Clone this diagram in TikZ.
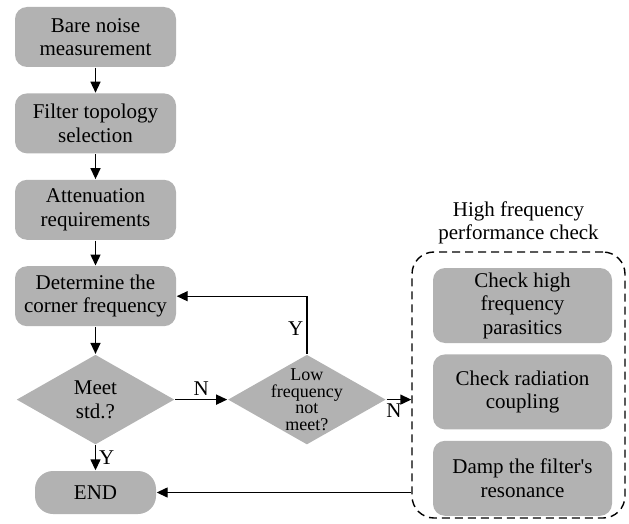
\documentclass[tikz,border=0pt]{standalone}
\usepackage{fontspec}
\setmainfont{Liberation Serif}
\newfontfamily\timesfont{Liberation Serif}
\usetikzlibrary{arrows.meta,positioning,shapes.geometric}

\begin{document}
\begin{tikzpicture}[x=1pt, y=1pt, >={Triangle[length=11pt,width=10pt]}, line width=1.4pt,
	   font=\timesfont\fontsize{21}{23.5}\selectfont,
	   box/.style={fill=black!30, rounded corners=12pt, align=center, minimum width=161pt, minimum height=60pt, inner sep=2pt},
	   dec/.style={diamond, fill=black!30, align=center, minimum width=158pt, minimum height=90pt, aspect=1.75, inner sep=0pt},
	   lbl/.style={inner sep=3pt}]
	  \useasboundingbox (0,0) rectangle (629,-524);
	  \node[box] (bare) at (95.5,-37) {Bare noise\\measurement};
	  \node[box, below=25pt of bare] (topo) {Filter topology\\selection};
	  \node[box, below=25pt of topo] (atten) {Attenuation\\requirements};
	  \node[box, below=25pt of atten] (corner) {Determine the\\corner frequency};
	  \node[dec, below=27pt of corner, inner sep=-6pt] (meet) {Meet\\std.?};
	  \node[box, minimum width=121pt, minimum height=43pt, rounded corners=18pt, below=25pt of meet] (end) {END};
	  \node[dec, right=52pt of meet, inner sep=-10pt, font=\timesfont\fontsize{18}{16.5}\selectfont] (low) {Low\\frequency\\not\\meet?};
	  % high frequency block
	  \node[draw, dashed, dash pattern=on 8pt off 5pt, rounded corners=22pt, minimum width=213pt, minimum height=266pt] (hf) at (518.5,-385) {};
	  \node[above=3pt of hf, align=center] (hftitle) {High frequency\\performance check};
	  \node[box, minimum width=179pt, minimum height=75pt] (para) at (522.5,-305.5) {Check high\\frequency\\parasitics};
	  \node[box, minimum width=179pt, minimum height=75pt, below=10pt of para] (rad) {Check radiation\\coupling};
	  \node[box, minimum width=179pt, minimum height=75pt, below=10pt of rad] (damp) {Damp the filter's\\resonance};
	  \draw[->] (bare) -- (topo);
	  \draw[->] (topo) -- (atten);
	  \draw[->] (atten) -- (corner);
	  \draw[->] (corner) -- (meet);
	  \draw[->] (meet) -- node[lbl, right] {Y} (end);
	  \draw[->] (meet) -- node[lbl, above] {N} (low);
	  \draw[->] (low.north) |- node[lbl, pos=0.22, left] {Y} (corner.east);
	  \draw[->] (low.east) -- node[lbl, below, pos=0.3] {N} (low.east -| hf.west);
	  \draw[->] (end.east -| hf.west) -- (end.east);
	\end{tikzpicture}
\end{document}
